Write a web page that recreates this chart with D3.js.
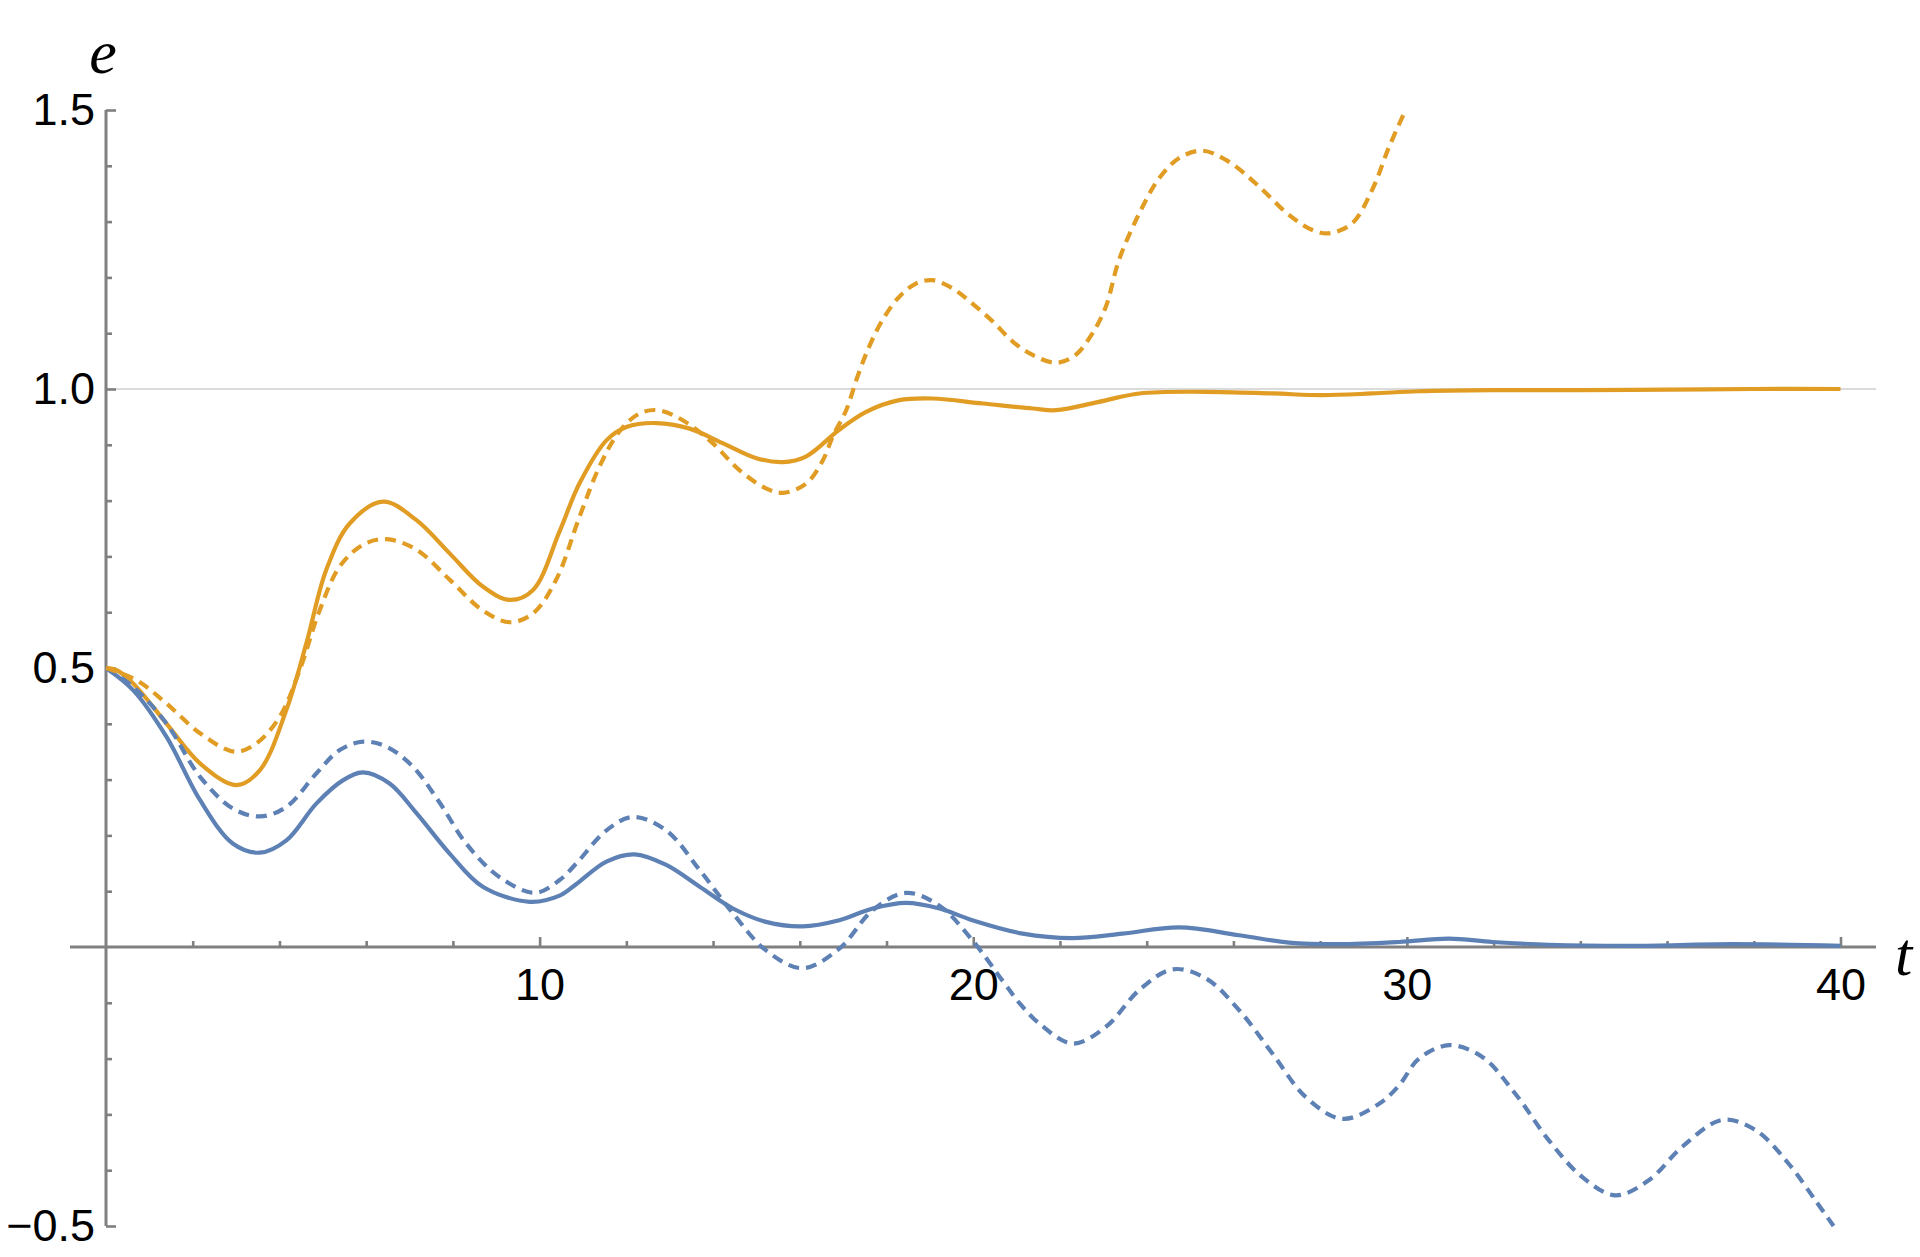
<!DOCTYPE html>
<html>
<head>
<meta charset="utf-8">
<script src="https://cdn.jsdelivr.net/npm/d3@7"></script>
<style>
  html, body { margin: 0; padding: 0; background: #fff; }
  svg { display: block; }
</style>
</head>
<body>
<svg id="chart" width="1920" height="1257"></svg>
<script>
// ---------- data ----------
const orangeSolidT = [0, 0.25, 0.63, 1.40, 2.17, 3.01, 3.55, 4.16, 4.62, 5.08, 5.62, 6.39, 7.16, 7.93, 8.69, 9.31, 9.85, 10.46, 10.92, 11.54, 12.0, 12.69, 13.46, 14.22, 15.0, 15.61, 16.14, 16.91, 17.53, 18.29, 19.06, 20.22, 21.37, 21.91, 22.9, 23.83, 25.36, 26.9, 28.05, 29.2, 30.28, 32, 34, 36, 38, 40];
const orangeSolidE = [0.5, 0.496, 0.472, 0.40, 0.329, 0.290, 0.317, 0.425, 0.544, 0.676, 0.759, 0.798, 0.765, 0.705, 0.646, 0.622, 0.640, 0.745, 0.831, 0.908, 0.932, 0.939, 0.929, 0.903, 0.876, 0.869, 0.879, 0.927, 0.959, 0.980, 0.983, 0.974, 0.965, 0.962, 0.977, 0.992, 0.995, 0.992, 0.989, 0.992, 0.996, 0.998, 0.998, 0.999, 1.0, 1.0];

const orangeDashedT = [0, 0.71, 1.40, 2.17, 2.97, 3.47, 4.01, 4.47, 4.93, 5.39, 5.93, 6.47, 7.16, 7.93, 8.69, 9.31, 9.85, 10.38, 10.92, 11.38, 11.84, 12.3, 12.73, 13.3, 13.99, 14.6, 15.22, 15.61, 16.14, 16.53, 16.76, 17.07, 17.33, 17.60, 17.91, 18.29, 18.68, 19.06, 19.53, 19.98, 20.45, 20.91, 21.37, 21.91, 22.36, 22.75, 23.06, 23.36, 23.83, 24.29, 24.75, 25.29, 25.90, 26.59, 27.28, 27.82, 28.20, 28.74, 29.20, 29.59, 29.97];
const orangeDashedE = [0.5, 0.478, 0.436, 0.383, 0.350, 0.365, 0.413, 0.497, 0.604, 0.682, 0.721, 0.731, 0.712, 0.658, 0.603, 0.582, 0.598, 0.658, 0.771, 0.861, 0.924, 0.956, 0.962, 0.944, 0.903, 0.855, 0.822, 0.814, 0.830, 0.872, 0.915, 0.962, 1.022, 1.076, 1.124, 1.165, 1.189, 1.195, 1.180, 1.153, 1.121, 1.085, 1.061, 1.047, 1.061, 1.100, 1.148, 1.231, 1.315, 1.378, 1.414, 1.427, 1.407, 1.363, 1.312, 1.285, 1.279, 1.297, 1.357, 1.434, 1.5];

const blueSolidT = [0, 0.63, 1.40, 2.17, 2.93, 3.55, 4.16, 4.85, 5.47, 5.93, 6.54, 7.16, 7.93, 8.69, 9.77, 10.46, 10.85, 11.54, 12.19, 12.92, 13.69, 14.46, 15.22, 16.06, 16.91, 17.68, 18.45, 19.22, 19.98, 21.14, 22.29, 23.44, 24.75, 26.13, 27.28, 28.43, 29.82, 30.97, 31.97, 33.27, 35.19, 37.5, 40];
const blueSolidE = [0.5, 0.460, 0.376, 0.263, 0.185, 0.169, 0.191, 0.257, 0.299, 0.313, 0.293, 0.240, 0.167, 0.108, 0.081, 0.092, 0.113, 0.153, 0.166, 0.147, 0.108, 0.069, 0.045, 0.037, 0.048, 0.069, 0.079, 0.069, 0.048, 0.024, 0.016, 0.024, 0.035, 0.021, 0.008, 0.005, 0.009, 0.015, 0.009, 0.004, 0.002, 0.005, 0.002];

const blueDashedT = [0, 0.63, 1.40, 2.17, 2.93, 3.55, 4.16, 4.85, 5.39, 5.93, 6.47, 7.08, 7.70, 8.31, 9.08, 9.9, 10.46, 10.85, 11.54, 12.15, 12.92, 13.69, 14.46, 15.22, 16.06, 16.91, 17.68, 18.45, 19.22, 19.98, 20.70, 21.06, 21.52, 22.29, 23.06, 23.83, 24.6, 25.36, 26.13, 26.9, 27.67, 28.51, 29.36, 29.82, 30.28, 30.97, 31.74, 32.5, 33.27, 34.04, 34.81, 35.58, 36.35, 37.27, 38.04, 38.8, 39.42, 39.84];
const blueDashedE = [0.5, 0.466, 0.400, 0.305, 0.248, 0.234, 0.251, 0.311, 0.353, 0.368, 0.359, 0.323, 0.258, 0.185, 0.125, 0.097, 0.120, 0.150, 0.209, 0.233, 0.209, 0.138, 0.060, -0.006, -0.038, -0.003, 0.066, 0.097, 0.074, 0.012, -0.063, -0.100, -0.137, -0.173, -0.143, -0.077, -0.040, -0.056, -0.113, -0.191, -0.269, -0.308, -0.281, -0.248, -0.200, -0.176, -0.197, -0.263, -0.346, -0.412, -0.445, -0.418, -0.358, -0.310, -0.328, -0.388, -0.454, -0.5];

const xMajorTicks = [10, 20, 30, 40];
const xMinorTicks = [2, 4, 6, 8, 12, 14, 16, 18, 22, 24, 26, 28, 32, 34, 36, 38];
const yMajorTicks = [-0.5, 0.5, 1.0, 1.5];
const yMinorTicks = [-0.4, -0.3, -0.2, -0.1, 0.1, 0.2, 0.3, 0.4, 0.6, 0.7, 0.8, 0.9, 1.1, 1.2, 1.3, 1.4];
const gridValues = [1.0];

// ---------- drawing ----------
const svg = d3.select("#chart");
const x = d3.scaleLinear().domain([0, 40]).range([106, 1840.5]);
const y = d3.scaleLinear().domain([-0.5, 1.5]).range([1226, 110]);
const axisColor = "#808080";
const BLUE = "#5E81B5", ORANGE = "#E19C24";
const xAxisExtent = [-0.83, 40.82];

// gridline
svg.selectAll("line.grid").data(gridValues).enter().append("line")
  .attr("class", "grid")
  .attr("x1", x(0)).attr("x2", x(xAxisExtent[1]))
  .attr("y1", d => y(d)).attr("y2", d => y(d))
  .attr("stroke", "#cfcfcf").attr("stroke-width", 1.3);

// x axis
const gx = svg.append("g").attr("transform", `translate(0,${y(0)})`);
gx.append("line").attr("x1", x(xAxisExtent[0])).attr("x2", x(xAxisExtent[1]))
  .attr("stroke", axisColor).attr("stroke-width", 3);
const xMinorAxis = gx.append("g").call(d3.axisBottom(x).tickValues(xMinorTicks).tickSize(-6).tickFormat(""));
const xMajorAxis = gx.append("g").call(d3.axisBottom(x).tickValues(xMajorTicks).tickSize(-10).tickPadding(21).tickFormat(d3.format("d")));

// y axis
const gy = svg.append("g").attr("transform", `translate(${x(0)},0)`);
gy.append("line").attr("y1", y(-0.5)).attr("y2", y(1.5))
  .attr("stroke", axisColor).attr("stroke-width", 3);
const yMinorAxis = gy.append("g").call(d3.axisLeft(y).tickValues(yMinorTicks).tickSize(-6).tickFormat(""));
const yMajorAxis = gy.append("g").call(d3.axisLeft(y).tickValues(yMajorTicks).tickSize(-10).tickPadding(11).tickFormat(d3.format(".1f")));

[xMinorAxis, xMajorAxis, yMinorAxis, yMajorAxis].forEach(g => {
  g.select(".domain").remove();
  g.selectAll(".tick line").attr("stroke", axisColor).attr("stroke-width", 2.6);
  g.selectAll(".tick text").attr("fill", "#000")
    .style("font-family", "'Liberation Sans', Arial, sans-serif").style("font-size", "45px");
});

// axis labels
svg.append("text").attr("x", 103).attr("y", 73).attr("text-anchor", "middle")
  .style("font-family", "'Liberation Serif', 'Times New Roman', serif").style("font-style", "italic")
  .style("font-size", "62px").text("e");
svg.append("text").attr("x", 1895).attr("y", 975).attr("text-anchor", "start")
  .style("font-family", "'Liberation Serif', 'Times New Roman', serif").style("font-style", "italic")
  .style("font-size", "62px").text("t");

// series
const line = d3.line().x(d => x(d[0])).y(d => y(d[1])).curve(d3.curveCatmullRom.alpha(0.5));
const series = [
  { t: blueSolidT, e: blueSolidE, color: BLUE, dash: null },
  { t: orangeSolidT, e: orangeSolidE, color: ORANGE, dash: null },
  { t: blueDashedT, e: blueDashedE, color: BLUE, dash: "11,7" },
  { t: orangeDashedT, e: orangeDashedE, color: ORANGE, dash: "11,7" }
];
series.forEach(s => {
  svg.append("path")
    .datum(d3.zip(s.t, s.e))
    .attr("d", line)
    .attr("fill", "none")
    .attr("stroke", s.color)
    .attr("stroke-width", 4.2)
    .attr("stroke-dasharray", s.dash)
    .attr("stroke-linejoin", "round");
});
</script>
</body>
</html>
